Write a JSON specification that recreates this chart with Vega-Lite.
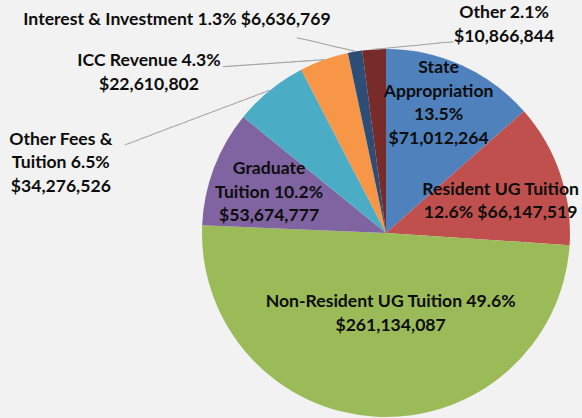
{
  "$schema": "https://vega.github.io/schema/vega-lite/v6.json",
  "width": 368,
  "height": 368,
  "autosize": {"type": "none"},
  "padding": {"left": 202, "top": 49, "right": 12, "bottom": 1},
  "background": "#f2f2f2",
  "config": {"view": {"stroke": null}},
  "data": {
    "values": [
      {"idx": 1, "category": "State Appropriation", "amount": 71012264, "label": "State\nAppropriation\n13.5%\n$71,012,264"},
      {"idx": 2, "category": "Resident UG Tuition", "amount": 66147519, "label": "Resident UG Tuition\n12.6% $66,147,519"},
      {"idx": 3, "category": "Non-Resident UG Tuition", "amount": 261134087, "label": "Non-Resident UG Tuition 49.6%\n$261,134,087"},
      {"idx": 4, "category": "Graduate Tuition", "amount": 53674777, "label": "Graduate\nTuition 10.2%\n$53,674,777"},
      {"idx": 5, "category": "Other Fees & Tuition", "amount": 34276526, "label": "Other Fees &\nTuition 6.5%\n$34,276,526"},
      {"idx": 6, "category": "ICC Revenue", "amount": 22610802, "label": "ICC Revenue 4.3%\n$22,610,802"},
      {"idx": 7, "category": "Interest & Investment", "amount": 6636769, "label": "Interest & Investment 1.3% $6,636,769"},
      {"idx": 8, "category": "Other", "amount": 10866844, "label": "Other 2.1%\n$10,866,844"}
    ]
  },
  "encoding": {
    "theta": {"field": "amount", "type": "quantitative", "stack": true},
    "order": {"field": "idx", "type": "quantitative"}
  },
  "layer": [
    {
      "mark": {"type": "arc", "outerRadius": 184, "stroke": null},
      "encoding": {
        "color": {
          "field": "category",
          "type": "nominal",
          "legend": null,
          "scale": {
            "domain": ["State Appropriation", "Resident UG Tuition", "Non-Resident UG Tuition", "Graduate Tuition", "Other Fees & Tuition", "ICC Revenue", "Interest & Investment", "Other"],
            "range": ["#4F81BD", "#C0504D", "#9BBB59", "#8064A2", "#4BACC6", "#F79646", "#2C4D75", "#772C2A"]
          }
        }
      }
    },
    {
      "mark": {"type": "text", "radius": 184, "align": "right", "baseline": "middle", "angle": 13.2, "font": "DejaVu Sans Mono", "fontSize": 12.4, "color": "#a6a6a6"},
      "encoding": {"text": {"condition": {"test": "datum.idx === 7", "value": "────────"}, "value": ""}}
    },
    {
      "mark": {"type": "text", "radius": 184, "align": "right", "baseline": "middle", "angle": 356.1, "font": "DejaVu Sans Mono", "fontSize": 12.03, "color": "#a6a6a6"},
      "encoding": {"text": {"condition": {"test": "datum.idx === 6", "value": "──────────────"}, "value": ""}}
    },
    {
      "mark": {"type": "text", "radius": 184, "align": "right", "baseline": "middle", "angle": 339.3, "font": "DejaVu Sans Mono", "fontSize": 12.24, "color": "#a6a6a6"},
      "encoding": {"text": {"condition": {"test": "datum.idx === 5", "value": "─────────────────────"}, "value": ""}}
    },
    {
      "mark": {"type": "text", "radius": 184, "align": "left", "baseline": "middle", "angle": 354.5, "font": "DejaVu Sans Mono", "fontSize": 12.07, "color": "#a6a6a6"},
      "encoding": {"text": {"condition": {"test": "datum.idx === 8", "value": "───────────"}, "value": ""}}
    },
    {
      "mark": {"type": "text", "radius": 140, "dx": -5, "dy": -37.25, "font": "Lato", "fontSize": 17.6, "fontWeight": "bold", "lineBreak": "\n", "lineHeight": 23.5, "align": "center", "baseline": "middle", "color": "#0d0d0d"},
      "encoding": {"text": {"condition": {"test": "datum.idx === 1", "field": "label", "type": "nominal"}, "value": ""}}
    },
    {
      "mark": {"type": "text", "radius": 119, "dx": 2, "dy": -4.75, "font": "Lato", "fontSize": 17.6, "fontWeight": "bold", "lineBreak": "\n", "lineHeight": 23.5, "align": "center", "baseline": "middle", "color": "#0d0d0d"},
      "encoding": {"text": {"condition": {"test": "datum.idx === 2", "field": "label", "type": "nominal"}, "value": ""}}
    },
    {
      "mark": {"type": "text", "radius": 81, "dx": 9, "dy": -11.75, "font": "Lato", "fontSize": 17.6, "fontWeight": "bold", "lineBreak": "\n", "lineHeight": 23.5, "align": "center", "baseline": "middle", "color": "#0d0d0d"},
      "encoding": {"text": {"condition": {"test": "datum.idx === 3", "field": "label", "type": "nominal"}, "value": ""}}
    },
    {
      "mark": {"type": "text", "radius": 124, "dx": -1, "dy": -20, "font": "Lato", "fontSize": 17.6, "fontWeight": "bold", "lineBreak": "\n", "lineHeight": 23.5, "align": "center", "baseline": "middle", "color": "#0d0d0d"},
      "encoding": {"text": {"condition": {"test": "datum.idx === 4", "field": "label", "type": "nominal"}, "value": ""}}
    },
    {
      "mark": {"type": "text", "radius": 184, "dx": -209, "dy": 49.5, "font": "Lato", "fontSize": 17.6, "fontWeight": "bold", "lineBreak": "\n", "lineHeight": 23.5, "align": "center", "baseline": "middle", "color": "#0d0d0d"},
      "encoding": {"text": {"condition": {"test": "datum.idx === 5", "field": "label", "type": "nominal"}, "value": ""}}
    },
    {
      "mark": {"type": "text", "radius": 184, "dx": -175, "dy": 1.25, "font": "Lato", "fontSize": 17.6, "fontWeight": "bold", "lineBreak": "\n", "lineHeight": 23.5, "align": "center", "baseline": "middle", "color": "#0d0d0d"},
      "encoding": {"text": {"condition": {"test": "datum.idx === 6", "field": "label", "type": "nominal"}, "value": ""}}
    },
    {
      "mark": {"type": "text", "radius": 184, "dx": -178, "dy": -31.5, "font": "Lato", "fontSize": 17.6, "fontWeight": "bold", "lineBreak": "\n", "lineHeight": 23.5, "align": "center", "baseline": "middle", "color": "#0d0d0d"},
      "encoding": {"text": {"condition": {"test": "datum.idx === 7", "field": "label", "type": "nominal"}, "value": ""}}
    },
    {
      "mark": {"type": "text", "radius": 184, "dx": 130, "dy": -36.25, "font": "Lato", "fontSize": 17.6, "fontWeight": "bold", "lineBreak": "\n", "lineHeight": 23.5, "align": "center", "baseline": "middle", "color": "#0d0d0d"},
      "encoding": {"text": {"condition": {"test": "datum.idx === 8", "field": "label", "type": "nominal"}, "value": ""}}
    }
  ]
}
